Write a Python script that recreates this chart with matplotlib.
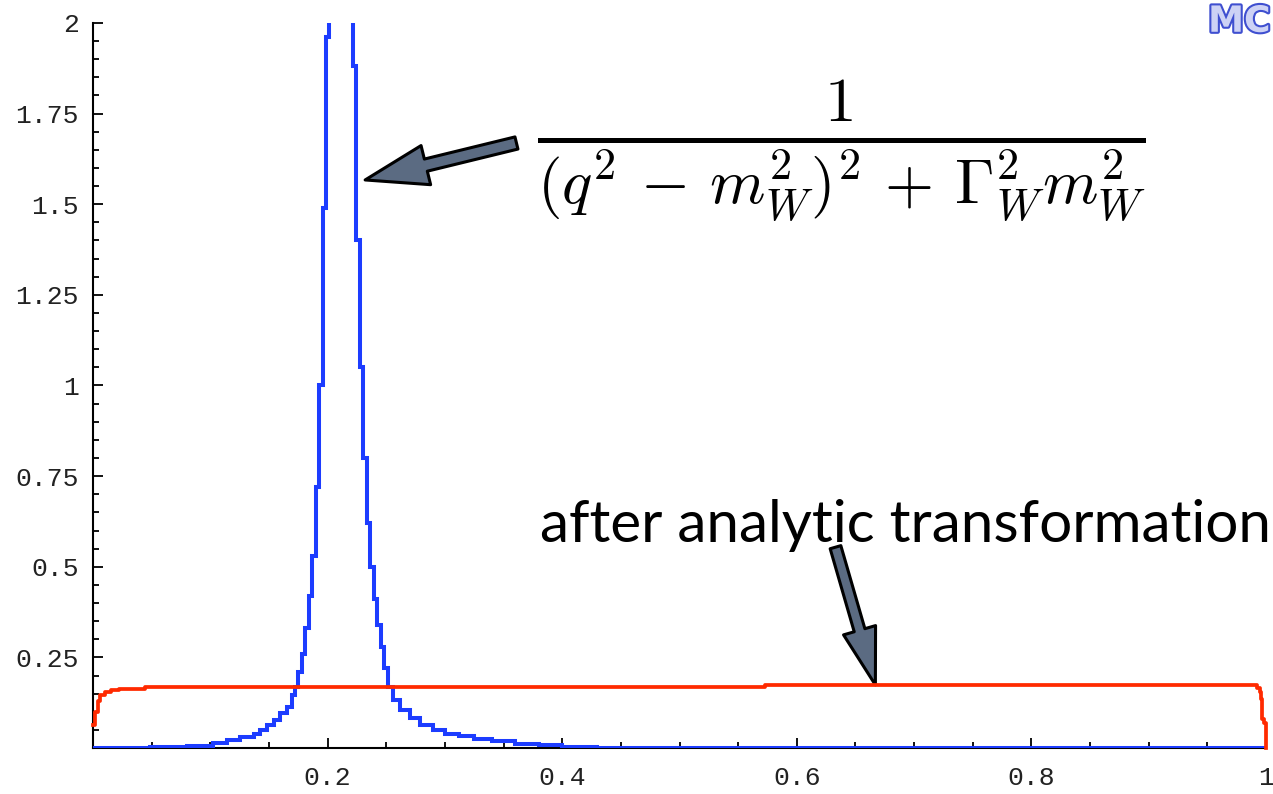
import matplotlib
matplotlib.use("Agg")
import matplotlib.pyplot as plt
import matplotlib.patheffects as pe
from matplotlib.ticker import MultipleLocator, FixedLocator

plt.rcParams['mathtext.fontset'] = 'cm'

# blue: raw Breit-Wigner shape (step values, left edge of each step)
blue_x = [0.0, 0.049, 0.080, 0.102, 0.114, 0.125, 0.137, 0.142, 0.148, 0.154,
          0.159, 0.165, 0.170, 0.172, 0.175, 0.178, 0.181, 0.184, 0.187, 0.190,
          0.193, 0.196, 0.1986, 0.2015, 0.205, 0.2085, 0.212, 0.2155, 0.219,
          0.2215, 0.2245, 0.2275, 0.2305, 0.2335, 0.2365, 0.2395, 0.2425, 0.2455,
          0.2485, 0.2515, 0.256, 0.262, 0.270, 0.279, 0.290, 0.300, 0.312, 0.325,
          0.340, 0.360, 0.380, 0.400, 0.430, 1.0]
blue_y = [0.0, 0.003, 0.006, 0.014, 0.022, 0.030, 0.040, 0.050, 0.063, 0.077,
          0.096, 0.113, 0.146, 0.168, 0.21, 0.26, 0.33, 0.42, 0.53, 0.72,
          1.0, 1.49, 1.96, 2.8, 3.6, 4.1, 4.1, 3.6, 2.8,
          1.88, 1.40, 1.05, 0.80, 0.62, 0.50, 0.41, 0.34, 0.28,
          0.22, 0.168, 0.132, 0.105, 0.083, 0.063, 0.050, 0.040, 0.032, 0.025,
          0.018, 0.012, 0.008, 0.004, 0.0, 0.0]

# red: after analytic transformation
red_x = [0.0, 0.002, 0.004, 0.006, 0.010, 0.015, 0.022, 0.044, 0.573,
         0.9925, 0.9945, 0.996, 0.997, 0.998, 1.0]
red_y = [0.063, 0.10, 0.13, 0.146, 0.155, 0.160, 0.163, 0.168, 0.175,
         0.165, 0.155, 0.135, 0.08, 0.07, 0.0]

x_major = [0.2, 0.4, 0.6, 0.8, 1.0]
x_labels = ['0.2', '0.4', '0.6', '0.8', '1']
y_major = [0.25, 0.5, 0.75, 1.0, 1.25, 1.5, 1.75, 2.0]
y_labels = ['0.25', '0.5', '0.75', '1', '1.25', '1.5', '1.75', '2']

fig = plt.figure(figsize=(12.73, 7.94), dpi=100)
ax = fig.add_axes([93 / 1273, 46 / 794, 1173 / 1273, 725 / 794])

ax.plot(blue_x, blue_y, drawstyle='steps-post', color='#1c3cff', lw=2.9,
        zorder=3, solid_joinstyle='miter')
ax.plot(red_x, red_y, drawstyle='steps-post', color='#ff2a00', lw=2.7,
        zorder=4, clip_on=False)

ax.set_xlim(0, 1)
ax.set_ylim(0, 2)

for s in ['top', 'right']:
    ax.spines[s].set_visible(False)
for s in ['left', 'bottom']:
    ax.spines[s].set_linewidth(1.5)

ax.xaxis.set_major_locator(FixedLocator(x_major))
ax.set_xticklabels(x_labels)
ax.xaxis.set_minor_locator(MultipleLocator(0.05))
ax.yaxis.set_major_locator(FixedLocator(y_major))
ax.set_yticklabels(y_labels)
ax.yaxis.set_minor_locator(MultipleLocator(0.05))

ax.tick_params(which='major', direction='in', length=7, width=1.3, pad=10)
ax.tick_params(which='minor', direction='in', length=4.5, width=1.3)
ax.tick_params(axis='x', pad=13)
for lab in ax.get_xticklabels() + ax.get_yticklabels():
    lab.set_family('Liberation Mono')
    lab.set_fontsize(19)
    lab.set_color('#222222')

# formula
ax.text(0.638, 1.648,
        r'$\frac{1}{(q^2 \,-\, m_W^2)^2 \,+\, \Gamma_W^2 m_W^2}$',
        fontsize=65, ha='center', va='center')

ax.text(0.381, 0.615, 'after analytic transformation', fontsize=42,
        family='Lato', ha='left', va='center')

arrow_fc = '#5b6b82'
ax.annotate('', xy=(0.232, 1.567), xytext=(0.361, 1.669),
            arrowprops=dict(arrowstyle='simple,head_length=45,head_width=29,tail_width=9',
                            mutation_scale=1, fc=arrow_fc, ec='black', lw=2.2,
                            shrinkA=0, shrinkB=0))
ax.annotate('', xy=(0.667, 0.174), xytext=(0.633, 0.554),
            arrowprops=dict(arrowstyle='simple,head_length=41,head_width=24,tail_width=8',
                            mutation_scale=1, fc=arrow_fc, ec='black', lw=2.2,
                            shrinkA=0, shrinkB=0))

# MC logo
fig.text(0.998, 0.994, 'MC', fontsize=26, fontweight='bold', color='#cdd2f5',
         ha='right', va='top',
         path_effects=[pe.withStroke(linewidth=3, foreground='#3f4fd0')])

fig.savefig('out.png', dpi=100)
